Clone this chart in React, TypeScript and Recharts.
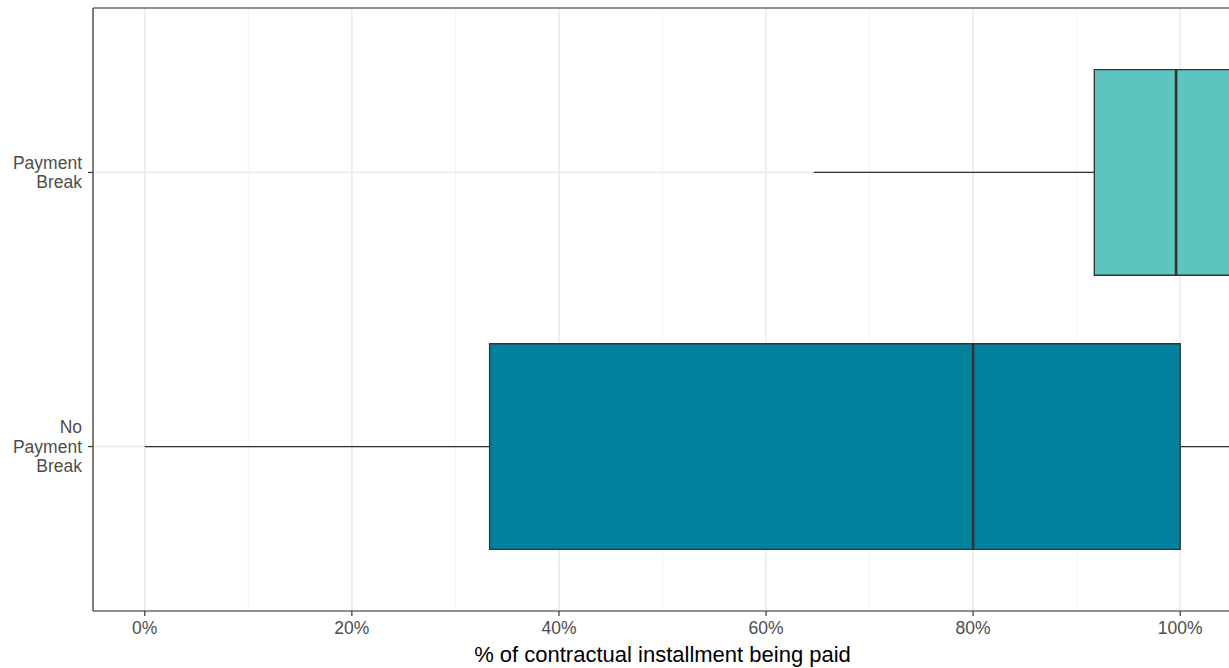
import React from "react";
import {
  ComposedChart,
  XAxis,
  YAxis,
  CartesianGrid,
  ReferenceArea,
  ReferenceLine,
  Scatter,
  Label,
} from "recharts";

// Box-plot statistics (% of contractual installment paid), one entry per group
const categories = ["No Payment Break", "Payment Break"];
const categoryLines = [["No", "Payment", "Break"], ["Payment", "Break"]];
const whiskerLow = [0, 64.6];
const q1 = [33.3, 91.7];
const median = [80, 99.6];
const q3 = [100, 112];
const whiskerHigh = [130, 125];
const boxColors = ["#02819F", "#5DC4BF"];

const xTicks = [0, 20, 40, 60, 80, 100];
const xMinorTicks = [10, 30, 50, 70, 90];
const xDomain = [-5, 105];
const yDomain = [0.4, 2.6];
const yTicks = categories.map((_, i) => i + 1);
const boxHalfWidth = 0.375;

const FONT = "'Liberation Sans', Arial, Helvetica, sans-serif";
const INK = "#333333";

// one anchor row per group: median position on its category slot
const medianRows = categories.map((c, i) => ({ group: c, pos: i + 1, med: median[i] }));

const CategoryTick = (props: any) => {
  const { x, y, payload } = props;
  const lines = categoryLines[payload.value - 1] || [];
  const lh = 19.5;
  const start = -((lines.length - 1) * lh) / 2;
  return (
    <text
      x={x}
      y={y}
      textAnchor="end"
      fill="#4D4D4D"
      fontSize={17.5}
      fontFamily={FONT}
    >
      {lines.map((ln, i) => (
        <tspan key={i} x={x} dy={i === 0 ? start + 6 : lh}>
          {ln}
        </tspan>
      ))}
    </text>
  );
};

export default function App() {
  return (
    <div
      style={{
        position: "absolute",
        left: 0,
        top: 0,
        width: 1229,
        height: 668,
        overflow: "hidden",
        background: "#fff",
        fontFamily: FONT,
      }}
    >
      <ComposedChart
        width={1240}
        height={668}
        data={medianRows}
        margin={{ top: 8, right: 8, bottom: 0, left: 0 }}
      >
        <CartesianGrid
          horizontal={false}
          vertical={true}
          verticalValues={xMinorTicks}
          stroke="#F3F3F3"
          strokeWidth={0.9}
        />
        <CartesianGrid
          horizontal={true}
          vertical={true}
          stroke="#EBEBEB"
          strokeWidth={1.7}
        />
        <XAxis
          type="number"
          dataKey="med"
          domain={xDomain}
          ticks={xTicks}
          allowDataOverflow
          tickFormatter={(v: number) => `${v}%`}
          height={57}
          tickSize={5}
          tickMargin={6}
          stroke={INK}
          axisLine={{ stroke: INK, strokeWidth: 1.2 }}
          tickLine={{ stroke: INK, strokeWidth: 1.2 }}
          tick={{ fill: "#4D4D4D", fontSize: 17.5, fontFamily: FONT }}
          interval={0}
        >
          <Label
            position="insideBottom"
            content={(p: any) => {
              const vb = p.viewBox || {};
              return (
                <text
                  x={vb.x + vb.width / 2}
                  y={vb.y + vb.height - 6}
                  textAnchor="middle"
                  fill="#000"
                  fontSize={22}
                  fontFamily={FONT}
                >
                  % of contractual installment being paid
                </text>
              );
            }}
          />
        </XAxis>
        <YAxis
          type="number"
          dataKey="pos"
          domain={yDomain}
          ticks={yTicks}
          allowDataOverflow
          width={93}
          tickSize={5}
          tickMargin={6}
          axisLine={{ stroke: INK, strokeWidth: 1.2 }}
          tickLine={{ stroke: INK, strokeWidth: 1.2 }}
          tick={<CategoryTick />}
          interval={0}
        />
        <Scatter dataKey="med" shape={() => null} isAnimationActive={false} />
        {/* whiskers */}
        {categories.map((c, i) => (
          <ReferenceLine
            key={`wl-${c}`}
            segment={[
              { x: whiskerLow[i], y: i + 1 },
              { x: q1[i], y: i + 1 },
            ]}
            stroke={INK}
            strokeWidth={1.3}
            ifOverflow="hidden"
          />
        ))}
        {categories.map((c, i) => (
          <ReferenceLine
            key={`wh-${c}`}
            segment={[
              { x: q3[i], y: i + 1 },
              { x: whiskerHigh[i], y: i + 1 },
            ]}
            stroke={INK}
            strokeWidth={1.3}
            ifOverflow="hidden"
          />
        ))}
        {/* boxes */}
        {categories.map((c, i) => (
          <ReferenceArea
            key={`box-${c}`}
            x1={q1[i]}
            x2={q3[i]}
            y1={i + 1 - boxHalfWidth}
            y2={i + 1 + boxHalfWidth}
            fill={boxColors[i]}
            fillOpacity={1}
            stroke={INK}
            strokeWidth={1.3}
            ifOverflow="hidden"
          />
        ))}
        {/* medians */}
        {categories.map((c, i) => (
          <ReferenceLine
            key={`med-${c}`}
            segment={[
              { x: median[i], y: i + 1 - boxHalfWidth },
              { x: median[i], y: i + 1 + boxHalfWidth },
            ]}
            stroke={INK}
            strokeWidth={2.6}
            ifOverflow="hidden"
          />
        ))}
        {/* panel border */}
        <ReferenceLine y={yDomain[1]} stroke={INK} strokeWidth={1.2} />
        <ReferenceLine x={xDomain[1]} stroke={INK} strokeWidth={1.2} />
      </ComposedChart>
    </div>
  );
}
